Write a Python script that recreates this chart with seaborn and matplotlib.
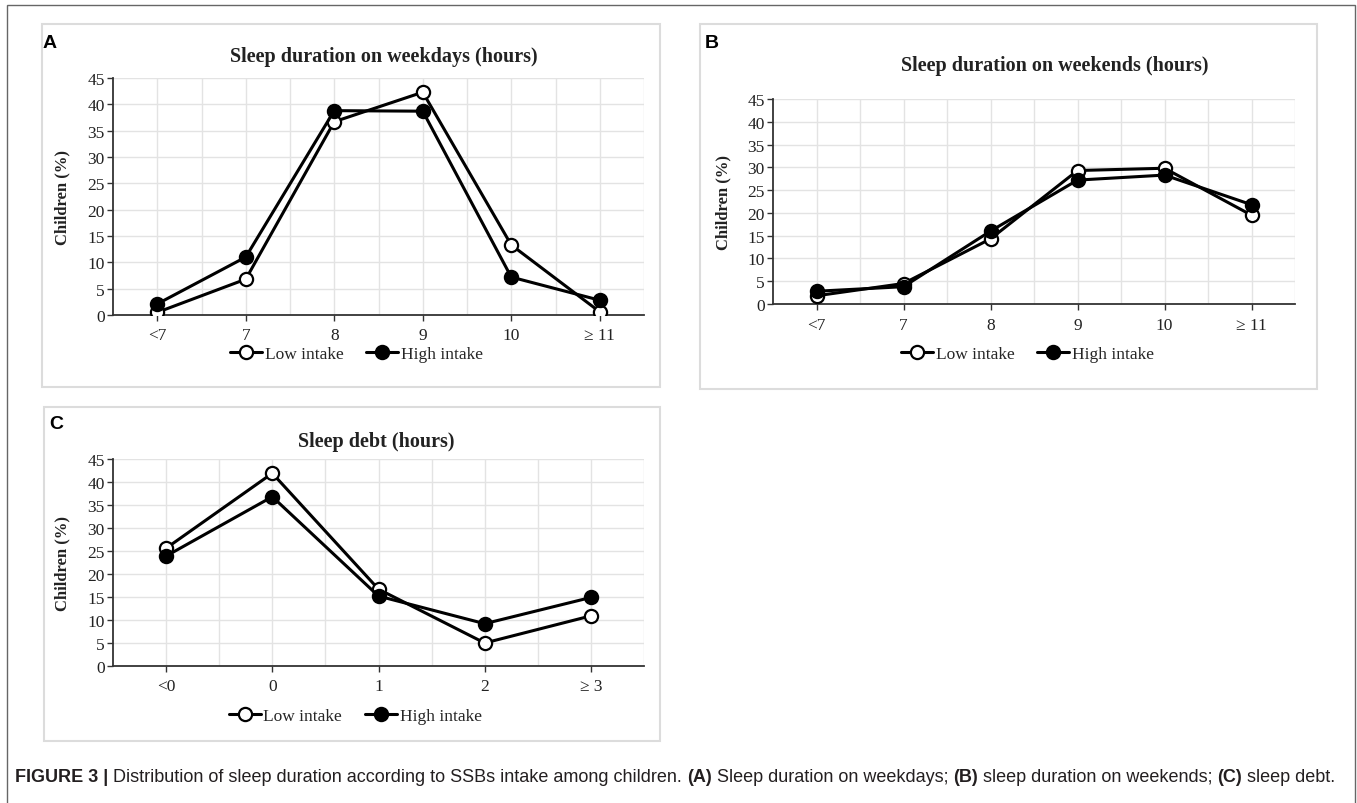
import pandas as pd
import seaborn as sns
import matplotlib.pyplot as plt
from matplotlib.patches import Rectangle
from matplotlib.lines import Line2D

sns.set_theme(style="white")
plt.rcParams['font.family'] = ['Liberation Serif', 'DejaVu Serif']

# data (% of children)
weekday_cats = ["<7", "7", "8", "9", "10", "\u2265 11"]
weekday_low = [0.5, 6.8, 36.7, 42.3, 13.3, 0.6]
weekday_high = [2.1, 11.0, 38.8, 38.7, 7.2, 2.8]

weekend_cats = ["<7", "7", "8", "9", "10", "\u2265 11"]
weekend_low = [1.8, 4.5, 14.3, 29.3, 29.8, 19.5]
weekend_high = [2.8, 3.8, 16.0, 27.2, 28.3, 21.8]

debt_cats = ["<0", "0", "1", "2", "\u2265 3"]
debt_low = [25.6, 41.9, 16.7, 5.0, 10.9]
debt_high = [23.9, 36.8, 15.2, 9.2, 14.9]

W, H = 1357, 804
fig = plt.figure(figsize=(W / 100, H / 100), dpi=100)


def px_box(x0, y0, x1, y1):
    return [x0 / W, 1 - y1 / H, (x1 - x0) / W, (y1 - y0) / H]


def frame(x0, y0, x1, y1, color, lw):
    fig.patches.append(Rectangle((x0 / W, 1 - y1 / H), (x1 - x0) / W, (y1 - y0) / H,
                                 transform=fig.transFigure, fill=False,
                                 edgecolor=color, linewidth=lw))


def panel(rect, cats, low, high, title, title_x, title_pad, ylab_x, leg_xy):
    ax = fig.add_axes(rect)
    df = pd.DataFrame({"cat": cats, "low": low, "high": high})
    sns.lineplot(data=df, x="cat", y="low", sort=False, ax=ax, color="black",
                 linewidth=2.2, marker="o", markersize=9.5, markerfacecolor="white",
                 markeredgecolor="black", markeredgewidth=1.6, zorder=3)
    sns.lineplot(data=df, x="cat", y="high", sort=False, ax=ax, color="black",
                 linewidth=2.2, marker="o", markersize=9.5, markerfacecolor="black",
                 markeredgecolor="black", markeredgewidth=1.6, zorder=4)
    n = len(cats)
    ax.set_xlim(-0.5, n - 0.5)
    ax.set_ylim(0, 45)
    ax.set_yticks(range(0, 46, 5))
    ax.set_xticks(range(n))
    ax.set_xticklabels(cats)
    for x in [i * 0.5 - 0.5 for i in range(1, 2 * n + 1)]:
        ax.axvline(x, color="#e3e3e3", linewidth=1, zorder=0)
    for y in range(5, 46, 5):
        ax.axhline(y, color="#e3e3e3", linewidth=1, zorder=0)
    for s in ["top", "right"]:
        ax.spines[s].set_visible(False)
    for s in ["left", "bottom"]:
        ax.spines[s].set_color("#333333")
        ax.spines[s].set_linewidth(1.3)
    ax.tick_params(axis="both", which="major", direction="out", length=4, width=1,
                   color="#333333", labelsize=12.5, labelcolor="#222222", pad=2,
                   left=True, bottom=True)
    ax.tick_params(axis="x", pad=5)
    ax.set_xlabel("")
    ax.set_ylabel("Children (%)", fontsize=12, fontweight="bold", color="#222222")
    ax.yaxis.set_label_coords(ylab_x, 0.5)
    ax.set_title(title, fontsize=14.5, fontweight="bold", color="#222222",
                 x=title_x, pad=title_pad)
    handles = [
        Line2D([], [], color="black", linewidth=2.2, marker="o", markersize=9.5,
               markerfacecolor="white", markeredgewidth=1.6),
        Line2D([], [], color="black", linewidth=2.2, marker="o", markersize=9.5,
               markerfacecolor="black", markeredgewidth=1.6),
    ]
    ax.legend(handles, ["Low intake", "High intake"], loc="center",
              bbox_to_anchor=leg_xy, ncol=2, frameon=False, fontsize=12.5,
              handlelength=1.85, handletextpad=0.15, columnspacing=1.3)
    return ax


# outer frame and panel boxes
frame(7, 6, 1355, 810, "#666666", 1.0)
frame(42, 25, 660, 388, "#dcdcdc", 1.5)
frame(700, 25, 1317, 390, "#dcdcdc", 1.5)
frame(44, 408, 660, 742, "#dcdcdc", 1.5)

panel(px_box(113, 79, 644, 316), weekday_cats, weekday_low, weekday_high,
      "Sleep duration on weekdays (hours)", 0.51, 12, -0.081, (0.458, -0.165))
panel(px_box(773, 100, 1295, 305), weekend_cats, weekend_low, weekend_high,
      "Sleep duration on weekends (hours)", 0.54, 21, -0.079, (0.487, -0.244))
panel(px_box(113, 460, 644, 667), debt_cats, debt_low, debt_high,
      "Sleep debt (hours)", 0.495, 9, -0.081, (0.456, -0.242))

sans = ['Liberation Sans', 'DejaVu Sans']
for lab, (x, y) in zip(["A", "B", "C"], [(50, 43), (712, 43), (56, 425)]):
    fig.text(x / W, 1 - y / H, lab, family=sans, fontsize=14, fontweight="bold",
             ha="center", va="center", color="black")

# caption with bold runs
caption = [
    ("FIGURE 3 |", True),
    (" Distribution of sleep duration according to SSBs intake among children. ", False),
    ("(A)", True),
    (" Sleep duration on weekdays; ", False),
    ("(B)", True),
    (" sleep duration on weekends; ", False),
    ("(C)", True),
    (" sleep debt.", False),
]
fig.canvas.draw()
renderer = fig.canvas.get_renderer()
x = 15 / W
for txt, bold in caption:
    t = fig.text(x, 1 - 778 / H, txt, family=sans, fontsize=13,
                 fontweight="bold" if bold else "normal", color="#231f20",
                 ha="left", va="center")
    bb = t.get_window_extent(renderer=renderer)
    x += bb.width / W

fig.savefig("out.png", dpi=100)
